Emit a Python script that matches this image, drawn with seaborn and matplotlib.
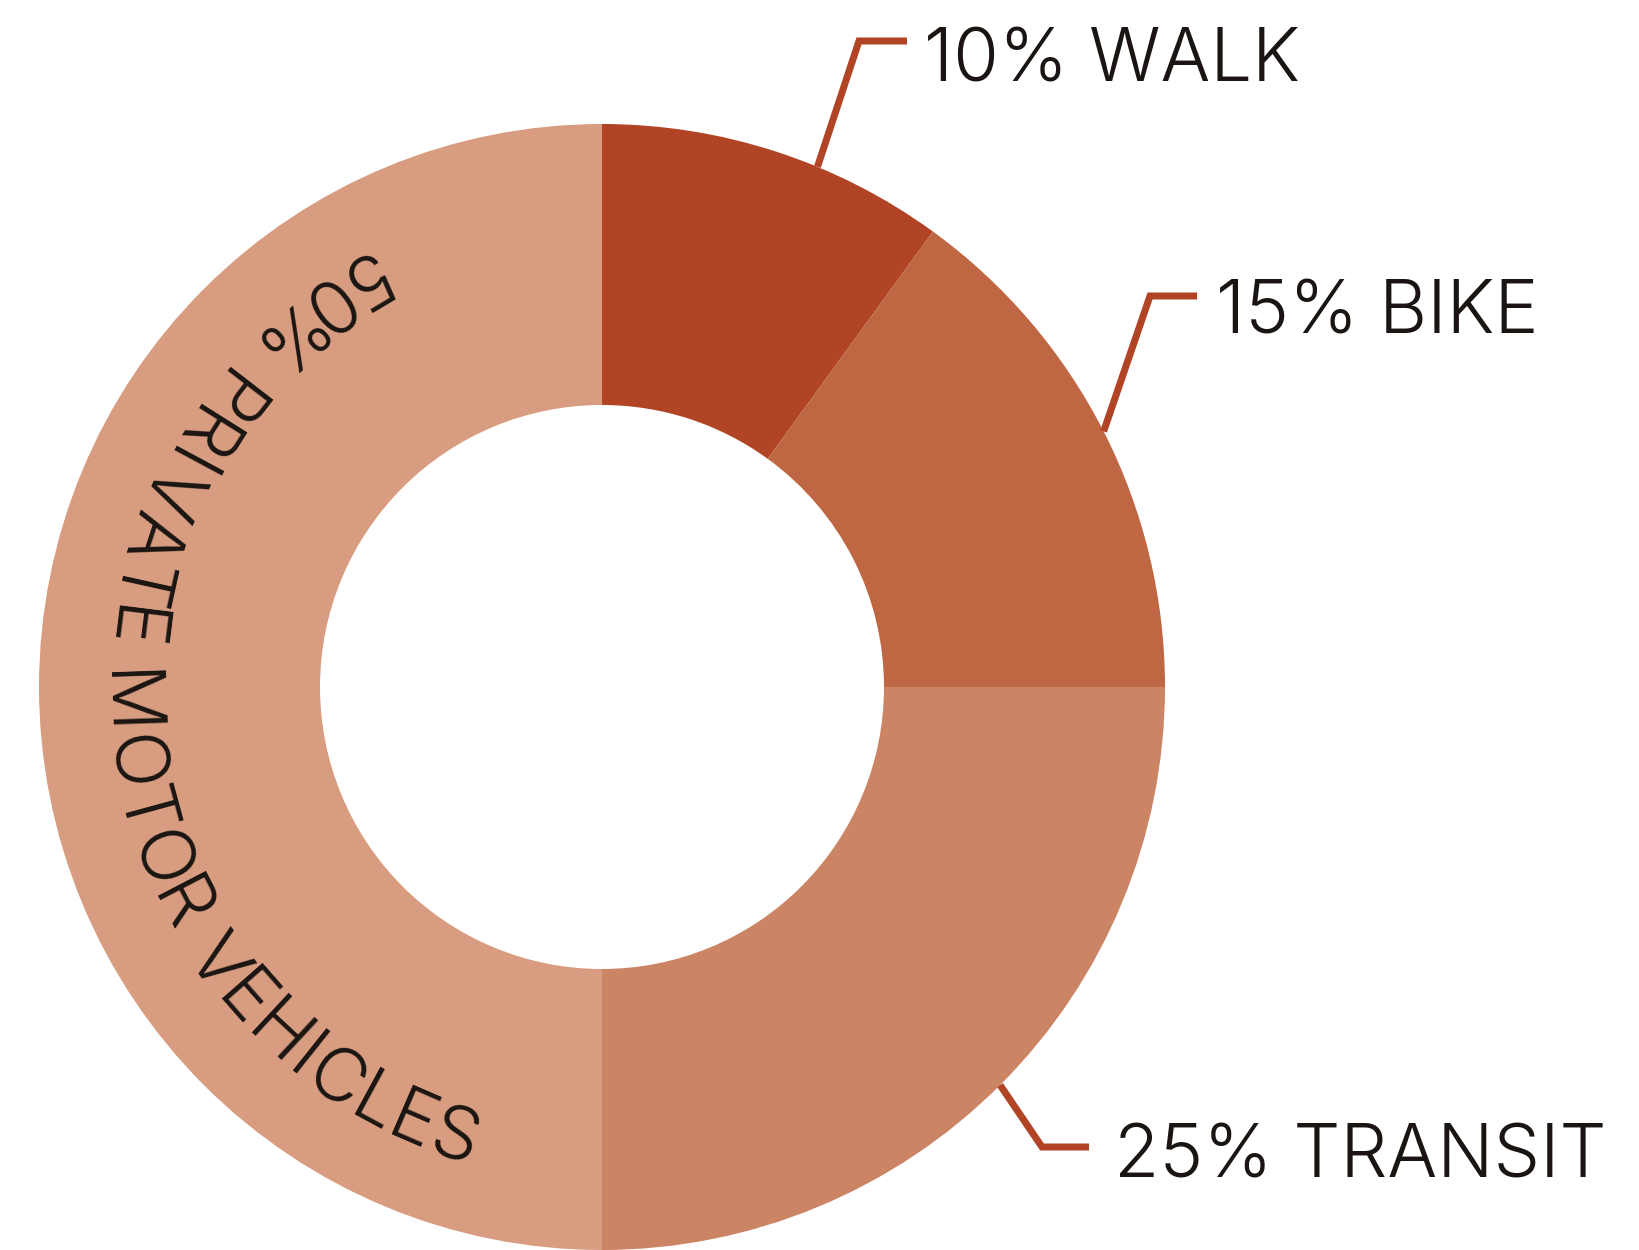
import matplotlib
matplotlib.use("Agg")
import matplotlib.pyplot as plt
import numpy as np
import seaborn as sns
from matplotlib.font_manager import FontProperties
from matplotlib.textpath import TextToPath

# data
modes = ["WALK", "BIKE", "TRANSIT", "PRIVATE MOTOR VEHICLES"]
shares = [10, 15, 25, 50]
colours = ["#B04425", "#BF6642", "#CB8464", "#D89D80"]

sns.set_theme(style="white")
plt.rcParams["font.family"] = ["Inter", "Liberation Sans", "DejaVu Sans"]

W, H = 1639, 1250
DPI = 100
CX, CY = 602, H - 687          # donut centre (pixels, y up)
R_OUT, R_IN = 563, 282
FS_PX = 74                     # font size in pixels
FS_PT = FS_PX * 72 / DPI
WEIGHT = 300
TEXT_COL = "#1A1512"
LINE_COL = "#B04425"

# leader layout: angle shift from wedge middle, elbow, line end, label position (y from top)
LEADERS = {
    "WALK":    dict(shift=-4.5, elbow=(859, 41),   end=907,  text=(924, 81)),
    "BIKE":    dict(shift=0,    elbow=(1150, 296), end=1197, text=(1216, 334)),
    "TRANSIT": dict(shift=0,    elbow=(1042, 1147), end=1089, text=(1114, 1178)),
}
ARC_RADIUS = 497               # baseline of the curved label
ARC_CENTRE_DEG = 186.5
TRACKING = 1.2                 # extra px between letters on the arc


def main():
    fig = plt.figure(figsize=(W / DPI, H / DPI), dpi=DPI)
    ax = fig.add_axes([0, 0, 1, 1])

    ax.pie(shares, colors=colours, startangle=90, counterclock=False,
           radius=R_OUT, center=(CX, CY),
           wedgeprops=dict(width=R_OUT - R_IN, linewidth=0))
    ax.set_xlim(0, W)
    ax.set_ylim(0, H)
    ax.set_aspect("equal")
    ax.axis("off")

    fracs = np.array(shares) / sum(shares)
    starts = np.concatenate([[0], np.cumsum(fracs)[:-1]])
    mids = 90 - 360 * (starts + fracs / 2)

    for mode, share, mid in zip(modes[:3], shares[:3], mids[:3]):
        lay = LEADERS[mode]
        a = np.deg2rad(mid + lay["shift"])
        x0, y0 = CX + R_OUT * np.cos(a), CY + R_OUT * np.sin(a)
        ex, ey = lay["elbow"][0], H - lay["elbow"][1]
        ax.plot([x0, ex, lay["end"]], [y0, ey, ey], color=LINE_COL,
                lw=7 * 72 / DPI, solid_joinstyle="miter", solid_capstyle="butt")
        tx, ty = lay["text"][0], H - lay["text"][1]
        ax.text(tx, ty, f"{share}% {mode}", fontsize=FS_PT, color=TEXT_COL,
                fontweight=WEIGHT, ha="left", va="baseline")

    # curved label for the big wedge
    label = f"{shares[3]}% {modes[3]}"
    fp = FontProperties(family=plt.rcParams["font.family"], weight=WEIGHT, size=FS_PX)
    ttp = TextToPath()

    def adv(s):
        return ttp.get_text_width_height_descent(s, fp, ismath=False)[0]

    base = adv("HH")
    widths = np.array([adv("H" + c + "H") - base for c in label]) + TRACKING
    total = widths.sum()
    theta0 = np.deg2rad(ARC_CENTRE_DEG) - total / ARC_RADIUS / 2
    pos = 0.0
    for ch, w in zip(label, widths):
        th = theta0 + (pos + w / 2) / ARC_RADIUS
        pos += w
        if ch == " ":
            continue
        x, y = CX + ARC_RADIUS * np.cos(th), CY + ARC_RADIUS * np.sin(th)
        ax.text(x, y, ch, fontsize=FS_PT, color=TEXT_COL, fontweight=WEIGHT,
                ha="center", va="baseline", rotation=np.rad2deg(th) + 90,
                rotation_mode="anchor")

    fig.savefig("out.png", dpi=DPI)
    plt.close(fig)


if __name__ == "__main__":
    main()
